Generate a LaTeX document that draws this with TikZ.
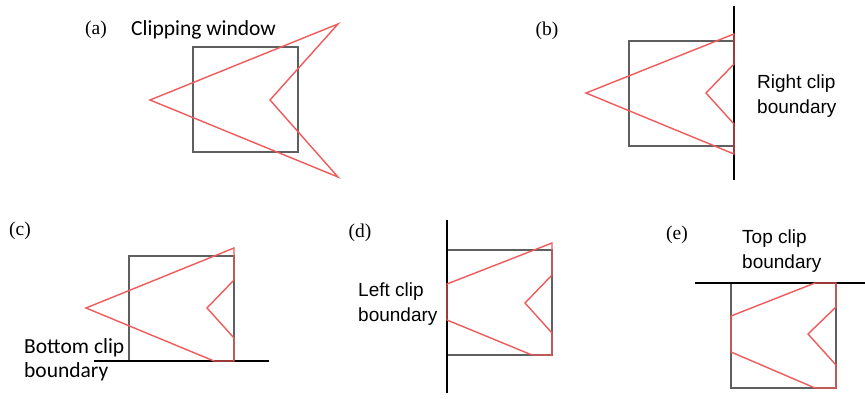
\documentclass[tikz,border=0pt]{standalone}
\usepackage{fontspec}
\setmainfont{Liberation Serif}
\newfontfamily\arialf{Liberation Sans}
\newfontfamily\calibf{Carlito}
\usetikzlibrary{positioning}
\definecolor{winGray}{RGB}{95,95,95}
\definecolor{polyRed}{RGB}{240,90,90}

\begin{document}
\begin{tikzpicture}[x=1pt,y=-1pt,
          win/.style={draw=winGray,line width=1.3pt},
          poly/.style={draw=polyRed,line width=1.4pt,line join=miter},
          bound/.style={line width=2.8pt},
          tag/.style={font=\fontsize{19.5}{22}\selectfont,inner sep=0pt},
          lbl/.style={font=\arialf\fontsize{19}{25}\selectfont,align=left,anchor=west,inner sep=0pt},
          lblc/.style={font=\calibf\fontsize{21.5}{24}\selectfont,align=left,anchor=west,inner sep=0pt}]
        \useasboundingbox (0,0) rectangle (865,399);
        % (a) polygon and clipping window
        \begin{scope}[shift={(193,47)}]
          \draw[win] (0,0) rectangle (105,105);
          \draw[poly] (145,-23) -- (-43,53) -- (145,130) -- (77,53) -- cycle;
        \end{scope}
        \node[tag] (ta) at (96,30) {(a)};
        \node[lblc] (la) at (131,30) {Clipping window};
        % (b) right boundary
        \begin{scope}[shift={(629,41)}]
          \draw[win] (0,0) rectangle (105,105);
          \draw[bound] (105,-35) -- (105,139);
          \draw[poly] (-43,52) -- (105,-7) -- (105,23) -- (77,52) -- (105,83) -- (105,113) -- cycle;
        \end{scope}
        \node[tag] (tb) at (547,31) {(b)};
        \node[lbl] (lb) at (757,96) {Right clip\\boundary};
        % (c) bottom boundary
        \begin{scope}[shift={(129,256)}]
          \draw[win] (0,0) rectangle (105,105);
          \draw[bound] (-35,105) -- (140,105);
          \draw[poly] (105,-8) -- (-43,52) -- (85,105) -- (105,105) -- (105,82) -- (78,52) -- (105,24) -- cycle;
        \end{scope}
        \node[tag] (tc) at (20,231) {(c)};
        \node[lblc] (lc) at (24,360) {Bottom clip\\boundary};
        % (d) left boundary
        \begin{scope}[shift={(447,250)}]
          \draw[win] (0,0) rectangle (105,105);
          \draw[bound] (0,-30) -- (0,143);
          \draw[poly] (0,34) -- (105,-7) -- (105,25) -- (78,53) -- (105,83) -- (105,105) -- (85,105) -- (0,70) -- cycle;
        \end{scope}
        \node[tag] (td) at (360,233) {(d)};
        \node[lbl] (ld) at (358,304) {Left clip\\boundary};
        % (e) top boundary
        \begin{scope}[shift={(731,283)}]
          \draw[win] (0,0) rectangle (105,105);
          \draw[bound] (-36,0) -- (134,0);
          \draw[poly] (0,33) -- (84,0) -- (105,0) -- (105,24) -- (77,51) -- (105,82) -- (105,105) -- (84,105) -- (0,69) -- cycle;
        \end{scope}
        \node[tag] (te) at (677,235) {(e)};
        \node[lbl] (le) at (742,251) {Top clip\\boundary};
      \end{tikzpicture}
\end{document}
